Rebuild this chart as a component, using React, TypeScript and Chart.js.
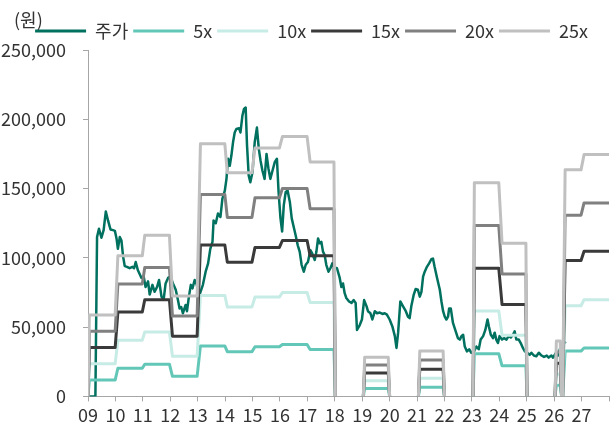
import React, { useEffect, useRef } from "react";
import { Chart, registerables } from "chart.js";

Chart.register(...registerables);

const unitLabel = "(원)";
const seriesNames = ["주가", "5x", "10x", "15x", "20x", "25x"];
const seriesColors = ["#00705F", "#63C7B8", "#C7EBE5", "#3A3A3A", "#808080", "#C0C0C0"];
const yearTickLabels = ["09", "10", "11", "12", "13", "14", "15", "16", "17", "18", "19", "20", "21", "22", "23", "24", "25", "26", "27", ""];

// 주가 (stock price), x = year (09 = 2009)
const priceX = [
  9.05, 9.27, 9.33, 9.40, 9.49, 9.57, 9.65, 9.73, 9.82, 9.91, 9.98,
  10.04, 10.09, 10.16, 10.22, 10.28, 10.34, 10.42, 10.52, 10.62, 10.68, 10.74, 10.82, 10.95,
  11.03, 11.10, 11.19, 11.25, 11.35, 11.43, 11.52, 11.59, 11.68, 11.76, 11.83, 11.92,
  12.00, 12.10, 12.20, 12.28, 12.34, 12.40, 12.46, 12.56, 12.61, 12.68, 12.75, 12.81, 12.89, 12.95,
  13.07, 13.19, 13.29, 13.38, 13.46, 13.54, 13.58, 13.66, 13.74, 13.83, 13.90, 13.99,
  14.05, 14.11, 14.17, 14.23, 14.29, 14.35, 14.41, 14.51, 14.56, 14.63, 14.69, 14.75, 14.80, 14.86, 14.92,
  15.00, 15.08, 15.16, 15.23, 15.29, 15.36, 15.44, 15.51, 15.58, 15.65, 15.73, 15.81, 15.89, 15.95,
  16.02, 16.08, 16.14, 16.21, 16.28, 16.36, 16.43, 16.50, 16.57, 16.65, 16.72, 16.79, 16.87, 16.94,
  17.02, 17.11, 17.18, 17.27, 17.33, 17.39, 17.45, 17.51, 17.57, 17.63, 17.69, 17.77, 17.84, 17.91, 17.99,
  18.08, 18.18, 18.24, 18.30, 18.36, 18.42, 18.52, 18.61, 18.69, 18.76, 18.81, 18.91, 18.99,
  19.07, 19.16, 19.21, 19.30, 19.37, 19.46, 19.54, 19.64, 19.74, 19.82, 19.90,
  20.00, 20.10, 20.19, 20.25, 20.31, 20.39, 20.49, 20.59, 20.67, 20.73, 20.79, 20.88, 20.95,
  21.03, 21.10, 21.16, 21.22, 21.28, 21.36, 21.44, 21.52, 21.58, 21.64, 21.73, 21.83, 21.89, 21.95,
  22.01, 22.07, 22.13, 22.17, 22.23, 22.31, 22.41, 22.49, 22.56, 22.62, 22.68, 22.74, 22.82, 22.90, 22.98,
  23.06, 23.16, 23.25, 23.32, 23.41, 23.49, 23.57, 23.62, 23.69, 23.77, 23.83, 23.89, 23.95,
  24.01, 24.10, 24.17, 24.26, 24.34, 24.42, 24.50, 24.56, 24.62, 24.71, 24.78, 24.86, 24.93,
  25.01, 25.11, 25.17, 25.26, 25.35, 25.44, 25.54, 25.63, 25.73, 25.80, 25.90, 25.96,
  26.05, 26.14, 26.20, 26.26, 26.35, 26.42,
];
const priceValues = [
  0, 0, 115000, 121000, 114500, 120000, 133500, 127000, 120500, 120000, 119500,
  114000, 106500, 115000, 112500, 101000, 94000, 93500, 92500, 93500, 92500, 97000, 91000, 85500,
  86500, 79000, 83000, 73500, 80500, 75500, 79000, 84000, 72000, 70000, 81500, 85500,
  86500, 81500, 77000, 69500, 63500, 64500, 60000, 66000, 61500, 72000, 80500, 78000, 84000, 81500,
  73500, 80500, 90000, 96000, 106500, 111500, 127000, 125000, 132000, 129500, 142500, 148500,
  157000, 171500, 166500, 174000, 183500, 190500, 193000, 193500, 190500, 202500, 207500, 208500, 181000, 159500, 154500,
  162000, 183500, 194000, 178500, 170500, 163000, 157000, 175000, 164500, 157000, 163000, 169000, 171500, 147500,
  128500, 119000, 138000, 147500, 148500, 140500, 128500, 122500, 116500, 109000, 104500, 95000, 90000, 95000,
  97000, 105500, 103000, 98500, 104500, 114000, 110500, 111500, 104500, 102000, 95000, 90000, 92500, 96000, 93000,
  92500, 85500, 79000, 81500, 74500, 71000, 68500, 67500, 69500, 67500, 48000, 51500, 55500,
  69500, 65000, 61500, 60000, 55500, 61500, 60000, 60500, 59500, 60000, 59000,
  55500, 50500, 43500, 35000, 46000, 68500, 65000, 61500, 57500, 56500, 65000, 73500, 77500,
  77000, 72000, 75500, 86500, 90000, 93500, 96000, 99000, 99500, 93500, 85500, 77000, 68500, 61500,
  57500, 55500, 57500, 63500, 63500, 53000, 47000, 42000, 41000, 43500, 44500, 36000, 32500, 34000, 31500,
  31500, 36000, 34000, 41000, 43500, 48000, 55500, 50500, 44500, 42000, 46000, 41000, 38500,
  43500, 41000, 42000, 41000, 43500, 42500, 44500, 47000, 41000, 41000, 38500, 35000, 32500,
  31500, 30000, 31500, 29500, 29000, 31500, 29500, 28500, 29500, 28000, 29500, 28000,
  31000, 29500, 33500, 37000, 38000, 39500,
];

// PER band lines, shared x positions
const bandX = [
  9.0, 9.05, 9.99, 10.09, 10.98, 11.07, 11.97, 12.08, 12.98, 13.1, 13.99, 14.08, 14.98, 15.09, 15.98, 16.09, 16.99, 17.1, 17.97, 18.02,
  18.5, 19.04, 19.09, 19.95, 20.0,
  20.5, 21.05, 21.1, 21.95, 22.0,
  22.5, 23.04, 23.09, 23.98, 24.1, 24.97, 25.01,
  25.5, 26.03, 26.08, 26.22, 26.27, 26.31, 26.4, 26.98, 27.09, 28.0,
];
const band5x = [0, 11750, 11750, 20300, 20300, 23250, 23250, 14500, 14500, 36450, 36450, 32300, 32300, 35850, 35850, 37500, 37500, 33850, 33850, 0, null, 0, 5650, 5650, 0, null, 0, 6550, 6550, 0, null, 0, 30850, 30850, 22100, 22100, 0, null, 0, 8000, 8000, 0, 0, 32700, 32700, 34900, 34900];
const band10x = [0, 23500, 23500, 40600, 40600, 46500, 46500, 29000, 29000, 72900, 72900, 64600, 64600, 71700, 71700, 75000, 75000, 67700, 67700, 0, null, 0, 11300, 11300, 0, null, 0, 13100, 13100, 0, null, 0, 61700, 61700, 44200, 44200, 0, null, 0, 16000, 16000, 0, 0, 65400, 65400, 69800, 69800];
const band15x = [0, 35250, 35250, 60900, 60900, 69750, 69750, 43500, 43500, 109350, 109350, 96900, 96900, 107550, 107550, 112500, 112500, 101550, 101550, 0, null, 0, 16950, 16950, 0, null, 0, 19650, 19650, 0, null, 0, 92550, 92550, 66300, 66300, 0, null, 0, 24000, 24000, 0, 0, 98100, 98100, 104700, 104700];
const band20x = [0, 47000, 47000, 81200, 81200, 93000, 93000, 58000, 58000, 145800, 145800, 129200, 129200, 143400, 143400, 150000, 150000, 135400, 135400, 0, null, 0, 22600, 22600, 0, null, 0, 26200, 26200, 0, null, 0, 123400, 123400, 88400, 88400, 0, null, 0, 32000, 32000, 0, 0, 130800, 130800, 139600, 139600];
const band25x = [0, 58750, 58750, 101500, 101500, 116250, 116250, 72500, 72500, 182250, 182250, 161500, 161500, 179250, 179250, 187500, 187500, 169250, 169250, 0, null, 0, 28250, 28250, 0, null, 0, 32750, 32750, 0, null, 0, 154250, 154250, 110500, 110500, 0, null, 0, 40000, 40000, 0, 0, 163500, 163500, 174500, 174500];

const yMin = 0;
const yMax = 250000;
const yStep = 50000;
const xMin = 9;
const xMax = 28;

const FONT = "'Noto Sans CJK KR', 'Noto Sans', sans-serif";
const TEXT_COLOR = "#333333";
const AXIS_COLOR = "#A6A6A6";

export default function App() {
  const ref = useRef<HTMLCanvasElement | null>(null);

  useEffect(() => {
    if (!ref.current) return;
    const toPts = (xs: number[], ys: (number | null)[]) => xs.map((x, i) => ({ x, y: ys[i] }));
    const bands = [band5x, band10x, band15x, band20x, band25x];

    const unitPlugin = {
      id: "unitLabel",
      afterLayout(chart: any) {
        const lg = chart.legend;
        if (lg) {
          lg.left += 7;
          lg.right += 7;
        }
      },
      afterDraw(chart: any) {
        const ctx = chart.ctx;
        ctx.save();
        ctx.font = `18px ${FONT}`;
        ctx.fillStyle = TEXT_COLOR;
        ctx.textBaseline = "middle";
        ctx.textAlign = "left";
        ctx.fillText(unitLabel, 14, 20);
        ctx.restore();
      },
    };

    const datasets: any[] = [
      {
        label: seriesNames[0],
        data: toPts(priceX, priceValues),
        borderColor: seriesColors[0],
        backgroundColor: seriesColors[0],
        borderWidth: 2.5,
        pointRadius: 0,
        tension: 0,
        order: 5,
        borderJoinStyle: "round",
      },
      ...bands.map((b, i) => ({
        label: seriesNames[i + 1],
        data: toPts(bandX, b),
        borderColor: seriesColors[i + 1],
        backgroundColor: seriesColors[i + 1],
        borderWidth: 3,
        pointRadius: 0,
        tension: 0,
        spanGaps: false,
        order: 4 - i,
        borderJoinStyle: "round",
        borderCapStyle: "round",
      })),
    ];

    const chart = new Chart(ref.current, {
      type: "line",
      data: { datasets },
      plugins: [unitPlugin],
      options: {
        responsive: false,
        animation: false,
        events: [],
        layout: { padding: { top: 17, right: 4, bottom: -1, left: 0 } },
        plugins: {
          tooltip: { enabled: false },
          title: { display: false },
          legend: {
            display: true,
            position: "top",
            labels: {
              boxWidth: 51,
              boxHeight: 3,
              padding: 5,
              color: TEXT_COLOR,
              font: { family: FONT, size: 18 },
              generateLabels: (ch: any) =>
                ch.data.datasets.map((ds: any, i: number) => ({
                  text: ds.label,
                  fillStyle: ds.borderColor,
                  strokeStyle: ds.borderColor,
                  lineWidth: 0,
                  hidden: false,
                  datasetIndex: i,
                  fontColor: TEXT_COLOR,
                })),
            },
          },
        },
        scales: {
          x: {
            type: "linear",
            min: xMin,
            max: xMax,
            grid: { drawOnChartArea: false, drawTicks: true, tickLength: 5, color: AXIS_COLOR },
            border: { display: true, color: AXIS_COLOR, width: 1 },
            ticks: {
              stepSize: 1,
              autoSkip: false,
              maxRotation: 0,
              padding: 3,
              color: TEXT_COLOR,
              font: { family: FONT, size: 18 },
              callback: (v: any) => {
                const idx = Math.round(Number(v) - xMin);
                return yearTickLabels[idx] ?? "";
              },
            },
          },
          y: {
            min: yMin,
            max: yMax,
            afterFit: (scale: any) => {
              scale.width = 88;
            },
            grid: { drawOnChartArea: false, drawTicks: true, tickLength: 5, color: AXIS_COLOR },
            border: { display: true, color: AXIS_COLOR, width: 1 },
            ticks: {
              stepSize: yStep,
              padding: 17,
              color: TEXT_COLOR,
              font: { family: FONT, size: 18 },
              callback: (v: any) => Number(v).toLocaleString("en-US"),
            },
          },
        },
      },
    });
    return () => chart.destroy();
  }, []);

  return (
    <div style={{ position: "fixed", left: 0, top: 0, width: 613, height: 428, background: "#fff" }}>
      <canvas ref={ref} width={613} height={428} style={{ display: "block" }} />
    </div>
  );
}
